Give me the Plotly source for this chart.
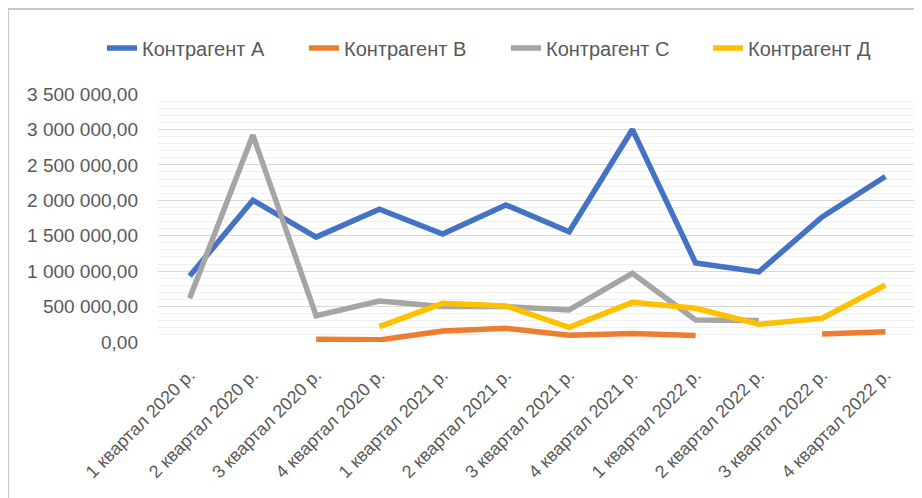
import plotly.graph_objects as go

# Квартали
kvartaly = [
    '1 квартал 2020 р.', '2 квартал 2020 р.', '3 квартал 2020 р.', '4 квартал 2020 р.',
    '1 квартал 2021 р.', '2 квартал 2021 р.', '3 квартал 2021 р.', '4 квартал 2021 р.',
    '1 квартал 2022 р.', '2 квартал 2022 р.', '3 квартал 2022 р.', '4 квартал 2022 р.'
]

kontragent_a = [932000, 2000000, 1480000, 1875000, 1525000, 1935000,
                1555000, 3000000, 1115000, 990000, 1765000, 2335000]
kontragent_b = [None, None, 40000, 30000, 155000, 193000,
                95000, 120000, 90000, None, 113000, 146000]
kontragent_c = [617000, 2920000, 372000, 579000, 500000, 500000,
                452000, 970000, 311000, 305000, None, None]
kontragent_d = [None, None, None, 217000, 546000, 508000,
                208000, 560000, 475000, 250000, 335000, 805000]

serii = [
    ('Контрагент А', kontragent_a, '#4472C4'),
    ('Контрагент В', kontragent_b, '#ED7D31'),
    ('Контрагент С', kontragent_c, '#A5A5A5'),
    ('Контрагент Д', kontragent_d, '#FFC000'),
]

shrift = 'Liberation Sans'
sirij = '#595959'

fig = go.Figure()

for nazva, znach, kolir in serii:
    fig.add_trace(go.Scatter(
        x=kvartaly,
        y=znach,
        mode='lines',
        name=nazva,
        line=dict(color=kolir, width=5.5),
        connectgaps=False,
    ))

# рамка діаграми (сторінка має відступ 8px, тому фігура менша)
fig.add_shape(
    type='rect', xref='paper', yref='paper',
    x0=-0.1976, x1=1.02, y0=-0.7, y1=1.3428,
    line=dict(color='#c8c8c8', width=2),
    layer='below',
)

fig.update_layout(
    width=914,
    height=490,
    margin=dict(l=150, r=5, t=86, b=156, autoexpand=False),
    paper_bgcolor='white',
    plot_bgcolor='white',
    separators=', ',
    showlegend=True,
    legend=dict(
        orientation='h',
        xref='paper', yref='paper',
        x=-0.0738, xanchor='left',
        y=1.185, yanchor='middle',
        font=dict(family=shrift, size=20, color=sirij),
        entrywidth=157, entrywidthmode='pixels',
        itemwidth=30,
    ),
    xaxis=dict(
        type='category',
        range=[-0.5, 11.5],
        tickangle=-45,
        tickfont=dict(family=shrift, size=18, color=sirij),
        showgrid=False,
        showline=False,
        zeroline=False,
        ticks='',
        automargin=False,
        ticklabelstandoff=18,
    ),
    yaxis=dict(
        range=[0, 3500000],
        dtick=500000,
        tickformat=',.2f',
        tickfont=dict(family=shrift, size=19, color=sirij),
        showgrid=True,
        gridcolor='#d9d9d9',
        gridwidth=1,
        zeroline=False,
        showline=False,
        automargin=False,
        ticklabelstandoff=19,
        minor=dict(dtick=100000, showgrid=True, gridcolor='#f0f0f0', gridwidth=1),
    ),
)

fig.write_html('out.html')
